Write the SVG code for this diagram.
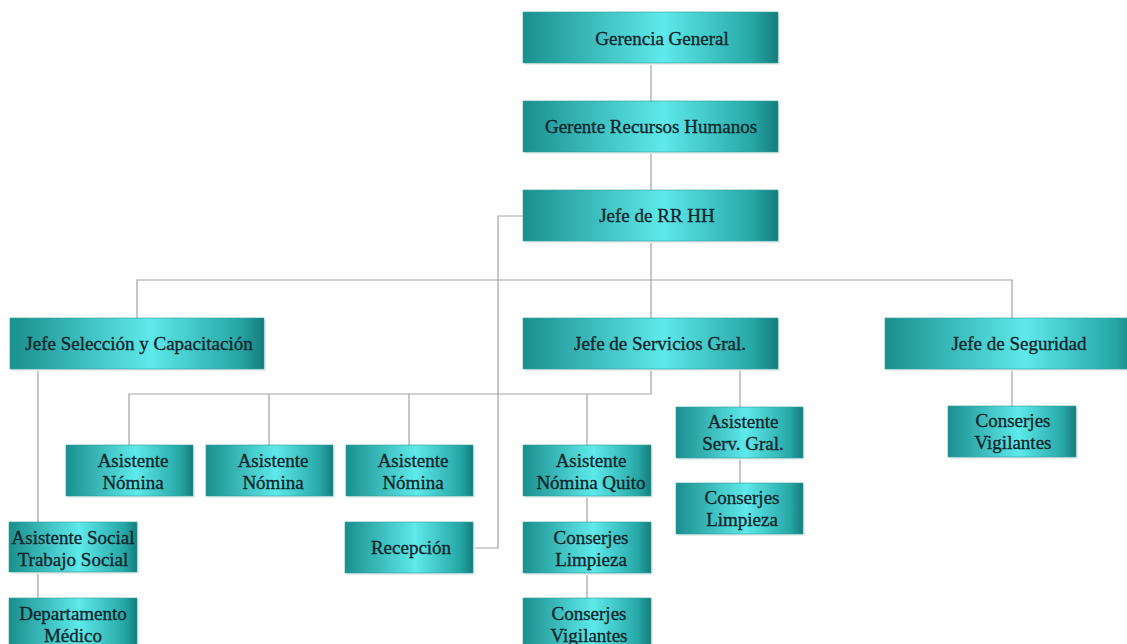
<svg xmlns="http://www.w3.org/2000/svg" width="1127" height="644" viewBox="0 0 1127 644">
<defs>
<linearGradient id="g" x1="0" y1="0" x2="1" y2="0">
<stop offset="0" stop-color="#1a8f8e"/>
<stop offset="0.55" stop-color="#5ee9ea"/>
<stop offset="0.9" stop-color="#26a7a6"/>
<stop offset="1" stop-color="#167c7c"/>
</linearGradient>
</defs>
<style>
.b{fill:url(#g);stroke:#2c9e9c;stroke-width:0.6}
.s{fill:#e6eeee}
text{font-family:"Liberation Serif","Times New Roman",serif;font-size:19px;fill:#10262c;stroke:#10262c;stroke-width:0.35;text-anchor:middle}
.c{fill:none;stroke:#a3a3a3;stroke-width:1.2}
</style>
<rect width="1127" height="644" fill="#ffffff"/>
<g id="connectors">
<path class="c" d="M651 63V101M651 152V190M651 241V318M137 318V280H1012V318"/>
<path class="c" d="M523 216H498V548H473"/>
<path class="c" d="M38 369V522M38 572V598"/>
<path class="c" d="M651 369V394H129V445M269 394V445M409 394V445M587 394V445M587 496V522M587 573V598"/>
<path class="c" d="M740 369V407M740 458V483"/>
<path class="c" d="M1012 368V406"/>
</g>
<g id="gg"><rect class="s" x="525" y="14" width="255" height="51"/><rect class="b" x="523" y="12" width="255" height="51"/><text x="662" y="45">Gerencia General</text></g>
<g id="grh"><rect class="s" x="525" y="103" width="255" height="51"/><rect class="b" x="523" y="101" width="255" height="51"/><text x="651" y="133">Gerente Recursos Humanos</text></g>
<g id="jrh"><rect class="s" x="525" y="192" width="255" height="51"/><rect class="b" x="523" y="190" width="255" height="51"/><text x="657" y="222">Jefe de RR HH</text></g>
<g id="jsc"><rect class="s" x="12" y="320" width="254" height="51"/><rect class="b" x="10" y="318" width="254" height="51"/><text x="139" y="350">Jefe Selección y Capacitación</text></g>
<g id="jsg"><rect class="s" x="525" y="320" width="255" height="51"/><rect class="b" x="523" y="318" width="255" height="51"/><text x="660" y="350">Jefe de Servicios Gral.</text></g>
<g id="jseg"><rect class="s" x="887" y="320" width="255" height="51"/><rect class="b" x="885" y="318" width="255" height="51"/><text x="1019" y="350">Jefe de Seguridad</text></g>
<g id="an1"><rect class="s" x="68" y="447" width="127" height="51"/><rect class="b" x="66" y="445" width="127" height="51"/><text x="133" y="467">Asistente</text><text x="133" y="489">Nómina</text></g>
<g id="an2"><rect class="s" x="208" y="447" width="127" height="51"/><rect class="b" x="206" y="445" width="127" height="51"/><text x="273" y="467">Asistente</text><text x="273" y="489">Nómina</text></g>
<g id="an3"><rect class="s" x="348" y="447" width="127" height="51"/><rect class="b" x="346" y="445" width="127" height="51"/><text x="413" y="467">Asistente</text><text x="413" y="489">Nómina</text></g>
<g id="anq"><rect class="s" x="525" y="447" width="128" height="51"/><rect class="b" x="523" y="445" width="128" height="51"/><text x="591" y="467">Asistente</text><text x="591" y="489">Nómina Quito</text></g>
<g id="rec"><rect class="s" x="347" y="524" width="128" height="51"/><rect class="b" x="345" y="522" width="128" height="51"/><text x="411" y="554">Recepción</text></g>
<g id="cl1"><rect class="s" x="525" y="524" width="128" height="51"/><rect class="b" x="523" y="522" width="128" height="51"/><text x="591" y="544">Conserjes</text><text x="591" y="566">Limpieza</text></g>
<g id="cv1"><rect class="s" x="525" y="600" width="128" height="51"/><rect class="b" x="523" y="598" width="128" height="51"/><text x="589" y="620">Conserjes</text><text x="589" y="642">Vigilantes</text></g>
<g id="asg"><rect class="s" x="678" y="409" width="127" height="51"/><rect class="b" x="676" y="407" width="127" height="51"/><text x="743" y="428">Asistente</text><text x="743" y="450">Serv. Gral.</text></g>
<g id="cl2"><rect class="s" x="678" y="485" width="127" height="51"/><rect class="b" x="676" y="483" width="127" height="51"/><text x="742" y="504">Conserjes</text><text x="742" y="526">Limpieza</text></g>
<g id="cv2"><rect class="s" x="950" y="408" width="128" height="51"/><rect class="b" x="948" y="406" width="128" height="51"/><text x="1013" y="427">Conserjes</text><text x="1013" y="449">Vigilantes</text></g>
<g id="as"><rect class="s" x="11" y="524" width="128" height="50"/><rect class="b" x="9" y="522" width="128" height="50"/><text x="73" y="544">Asistente Social</text><text x="73" y="566">Trabajo Social</text></g>
<g id="dm"><rect class="s" x="11" y="600" width="128" height="51"/><rect class="b" x="9" y="598" width="128" height="51"/><text x="73" y="620">Departamento</text><text x="73" y="642">Médico</text></g>
</svg>
